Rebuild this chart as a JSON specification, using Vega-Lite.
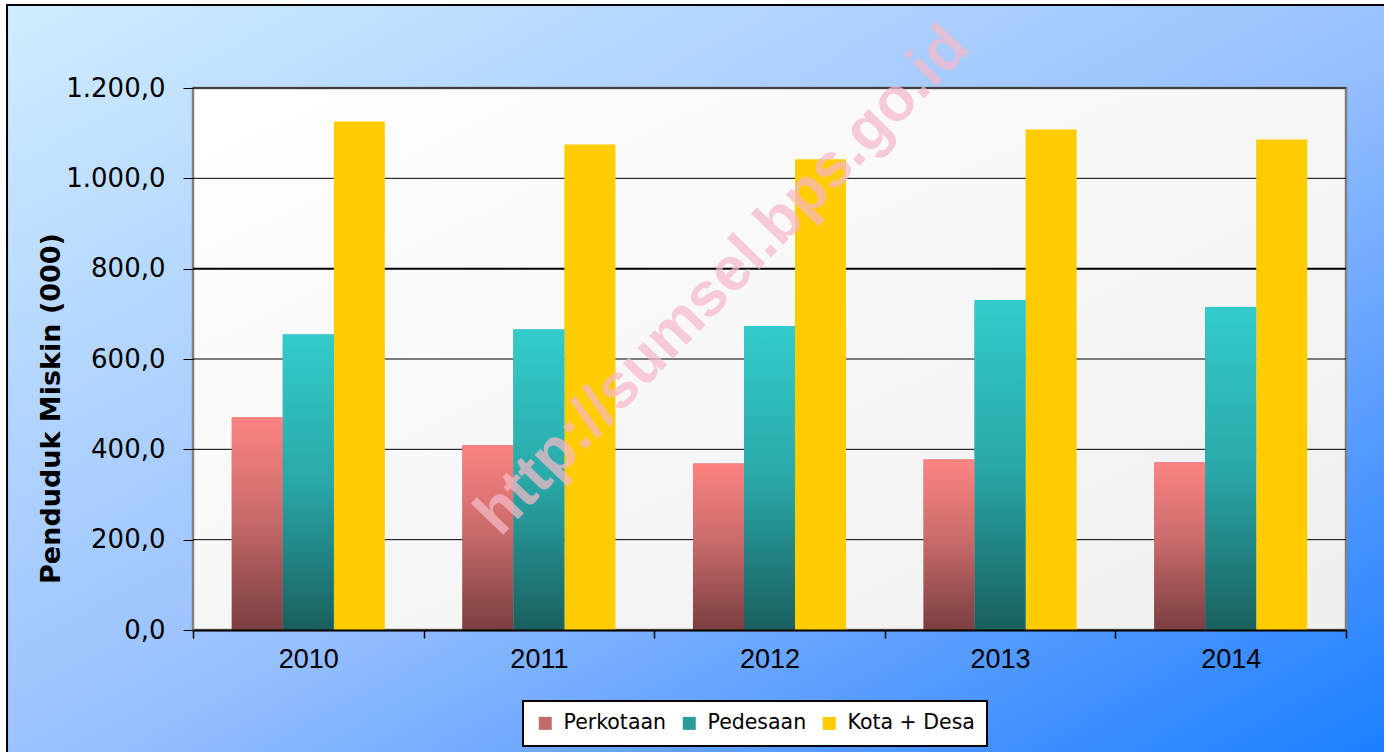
{
  "$schema": "https://vega.github.io/schema/vega-lite/v6.json",
  "width": 1153,
  "height": 542,
  "autosize": {"type": "none"},
  "padding": {"left": 193, "top": 88, "right": 38, "bottom": 122},
  "background": "white",
  "config": {
    "view": {"stroke": null},
    "font": "DejaVu Sans"
  },
  "datasets": {
    "poor": [
      {"year": "2010", "group": "Perkotaan", "value": 471.2},
      {"year": "2010", "group": "Pedesaan", "value": 654.5},
      {"year": "2010", "group": "Kota + Desa", "value": 1125.7},
      {"year": "2011", "group": "Perkotaan", "value": 409.6},
      {"year": "2011", "group": "Pedesaan", "value": 665.2},
      {"year": "2011", "group": "Kota + Desa", "value": 1074.8},
      {"year": "2012", "group": "Perkotaan", "value": 368.9},
      {"year": "2012", "group": "Pedesaan", "value": 673.3},
      {"year": "2012", "group": "Kota + Desa", "value": 1042.2},
      {"year": "2013", "group": "Perkotaan", "value": 377.6},
      {"year": "2013", "group": "Pedesaan", "value": 730.6},
      {"year": "2013", "group": "Kota + Desa", "value": 1108.2},
      {"year": "2014", "group": "Perkotaan", "value": 371.4},
      {"year": "2014", "group": "Pedesaan", "value": 714.4},
      {"year": "2014", "group": "Kota + Desa", "value": 1085.8}
    ],
    "grid": [{"g": 200}, {"g": 400}, {"g": 600}, {"g": 800}, {"g": 1000}, {"g": 1200}],
    "frame": [{"k": "frame"}],
    "mark": [{"t": "http://sumsel.bps.go.id"}]
  },
  "layer": [
    {
      "data": {"name": "frame"},
      "layer": [
        {
          "mark": {
            "type": "rect",
            "stroke": "black",
            "strokeWidth": 2,
            "fill": {
              "gradient": "linear", "x1": 0, "y1": 0, "x2": 1, "y2": 1,
              "stops": [
                {"offset": 0, "color": "#d0ecff"},
                {"offset": 0.5, "color": "#98c0ff"},
                {"offset": 0.84, "color": "#3a8cff"},
                {"offset": 0.95, "color": "#1a80ff"}
              ]
            }
          },
          "encoding": {
            "x": {"datum": -0.1613, "type": "quantitative", "scale": {"domain": [0, 1], "nice": false, "zero": false}, "axis": null},
            "x2": {"datum": 1.1},
            "y": {"datum": 1.1531, "type": "quantitative", "scale": {"domain": [0, 1], "nice": false, "zero": false}, "axis": null},
            "y2": {"datum": -0.3}
          }
        },
        {
          "mark": {
            "type": "rect",
            "stroke": "#808080",
            "strokeWidth": 2.5,
            "fill": {
              "gradient": "linear", "x1": 0, "y1": 0, "x2": 1, "y2": 1,
              "stops": [
                {"offset": 0, "color": "#ffffff"},
                {"offset": 1, "color": "#efefef"}
              ]
            }
          },
          "encoding": {
            "x": {"datum": 0, "type": "quantitative", "scale": {"domain": [0, 1], "nice": false, "zero": false}, "axis": null},
            "x2": {"datum": 1},
            "y": {"datum": 1, "type": "quantitative", "scale": {"domain": [0, 1], "nice": false, "zero": false}, "axis": null},
            "y2": {"datum": 0}
          }
        }
      ]
    },
    {
      "layer": [
        {
          "data": {"name": "grid"},
          "mark": {"type": "rule", "color": "black"},
          "encoding": {
            "y": {"field": "g", "type": "quantitative", "scale": {"domain": [0, 1200], "nice": false}},
            "strokeWidth": {"condition": {"test": "datum.g === 800", "value": 2}, "value": 1}
          }
        },
        {
          "data": {"name": "poor"},
          "mark": {"type": "bar"},
          "encoding": {
            "x": {
              "field": "year", "type": "nominal",
              "scale": {"paddingInner": 0, "paddingOuter": 0},
              "axis": {
                "title": null, "tickBand": "extent", "tickSize": 8, "tickColor": "black", "tickWidth": 1.5,
                "domainColor": "black", "domainWidth": 2, "labelAngle": 0,
                "labelFont": "Liberation Sans", "labelFontSize": 27, "labelColor": "black", "labelPadding": 8,
                "zindex": 1
              }
            },
            "xOffset": {
              "field": "group", "type": "nominal",
              "scale": {"domain": ["Perkotaan", "Pedesaan", "Kota + Desa"], "paddingOuter": 0.76, "paddingInner": 0}
            },
            "y": {
              "field": "value", "type": "quantitative",
              "scale": {"domain": [0, 1200], "nice": false},
              "axis": {
                "title": "Penduduk Miskin (000)",
                "titleFont": "DejaVu Sans", "titleFontSize": 27, "titleFontWeight": "bold", "titleColor": "black",
                "titlePadding": 0, "titleY": 320,
                "values": [0, 200, 400, 600, 800, 1000, 1200],
                "labelExpr": "replace(replace(replace(format(datum.value, ',.1f'), ',', '_'), '.', ','), '_', '.')",
                "labelFont": "DejaVu Sans", "labelFontSize": 26, "labelColor": "black", "labelPadding": 18,
                "grid": false, "domain": false, "tickSize": 10, "tickColor": "black", "tickWidth": 1,
                "zindex": 1
              }
            },
            "color": {
              "field": "group", "type": "nominal",
              "scale": {"domain": ["Perkotaan", "Pedesaan", "Kota + Desa"], "range": ["#c06a6a", "#2a9c9c", "#ffcc00"]},
              "legend": {
                "orient": "none", "legendX": 330, "legendY": 613, "direction": "horizontal",
                "title": null, "fillColor": "white", "strokeColor": "black", "padding": 12,
                "symbolType": "square", "symbolSize": 169, "symbolStrokeWidth": 0,
                "labelFont": "DejaVu Sans", "labelFontSize": 20.5, "labelColor": "black",
                "labelOffset": 8, "columnPadding": 12,
                "encode": {"legend": {"update": {"strokeWidth": {"value": 2}}}}
              }
            }
          }
        },
        {
          "data": {"name": "poor"},
          "transform": [{"filter": "datum.group === 'Perkotaan'"}],
          "mark": {
            "type": "bar",
            "fill": {
              "gradient": "linear", "x1": 0, "y1": 0, "x2": 0, "y2": 1,
              "stops": [
                {"offset": 0, "color": "#fd8383"},
                {"offset": 0.45, "color": "#cc6c6c"},
                {"offset": 1, "color": "#7a3e41"}
              ]
            }
          },
          "encoding": {
            "x": {"field": "year", "type": "nominal"},
            "xOffset": {"field": "group", "type": "nominal", "scale": {"domain": ["Perkotaan", "Pedesaan", "Kota + Desa"], "paddingOuter": 0.76, "paddingInner": 0}},
            "y": {"field": "value", "type": "quantitative"}
          }
        },
        {
          "data": {"name": "poor"},
          "transform": [{"filter": "datum.group === 'Pedesaan'"}],
          "mark": {
            "type": "bar",
            "fill": {
              "gradient": "linear", "x1": 0, "y1": 0, "x2": 0, "y2": 1,
              "stops": [
                {"offset": 0, "color": "#33cccc"},
                {"offset": 0.5, "color": "#2aa8a8"},
                {"offset": 1, "color": "#1a5f5f"}
              ]
            }
          },
          "encoding": {
            "x": {"field": "year", "type": "nominal"},
            "xOffset": {"field": "group", "type": "nominal", "scale": {"domain": ["Perkotaan", "Pedesaan", "Kota + Desa"], "paddingOuter": 0.76, "paddingInner": 0}},
            "y": {"field": "value", "type": "quantitative"}
          }
        }
      ]
    },
    {
      "data": {"name": "mark"},
      "mark": {
        "type": "text", "angle": 314, "align": "center", "baseline": "middle",
        "font": "Liberation Sans", "fontWeight": "bold", "fontSize": 62,
        "fill": "#f7bac8", "opacity": 0.72
      },
      "encoding": {
        "text": {"field": "t"},
        "x": {"datum": 0.459, "type": "quantitative", "scale": {"domain": [0, 1], "nice": false, "zero": false}, "axis": null},
        "y": {"datum": 0.645, "type": "quantitative", "scale": {"domain": [0, 1], "nice": false, "zero": false}, "axis": null}
      }
    }
  ],
  "resolve": {
    "scale": {"x": "independent", "y": "independent"},
    "axis": {"x": "independent", "y": "independent"}
  }
}
